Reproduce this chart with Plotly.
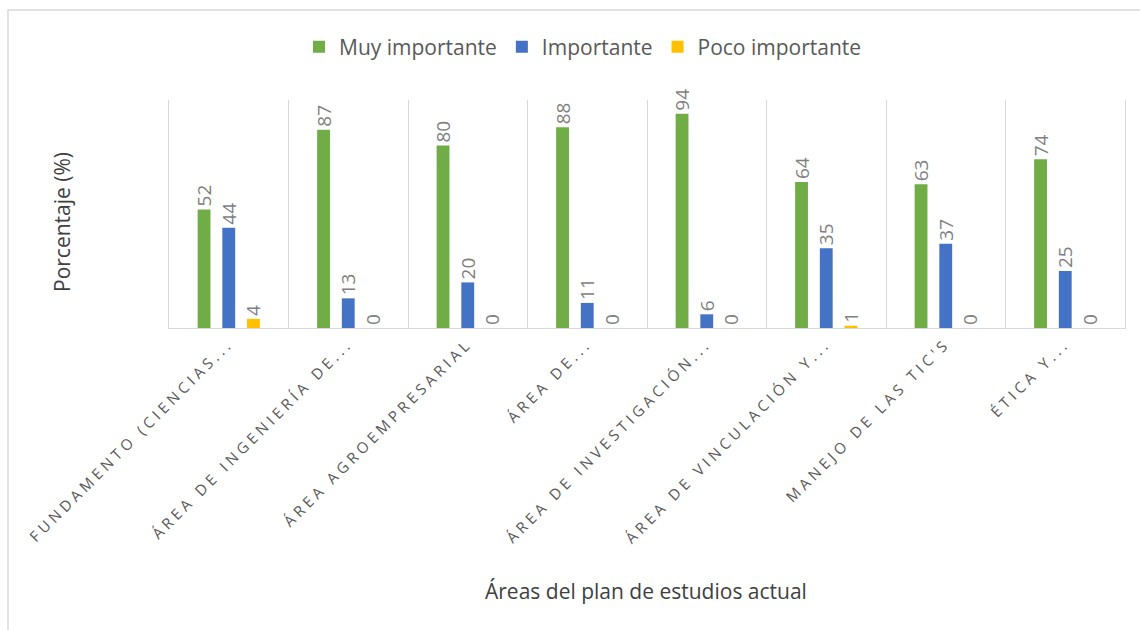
import plotly.graph_objects as go

categories = [
    "FUNDAMENTO (CIENCIAS...",
    "ÁREA DE INGENIERÍA DE...",
    "ÁREA AGROEMPRESARIAL",
    "ÁREA DE...",
    "ÁREA DE INVESTIGACIÓN...",
    "ÁREA DE VINCULACIÓN Y...",
    "MANEJO DE LAS TIC'S",
    "ÉTICA Y...",
]
muy_importante = [52, 87, 80, 88, 94, 64, 63, 74]
importante = [44, 13, 20, 11, 6, 35, 37, 25]
poco_importante = [4, 0, 0, 0, 0, 1, 0, 0]

series = [
    ("Muy importante", muy_importante, "#70AD47"),
    ("Importante", importante, "#4472C4"),
    ("Poco importante", poco_importante, "#FFC000"),
]

FONT = "Open Sans"
W, H = 1140, 630
ML, MR, MT, MB = 169, 15, 100, 302
PW = W - ML - MR
PH = H - MT - MB

fig = go.Figure()
for name, vals, color in series:
    fig.add_trace(go.Bar(
        name=name, x=categories, y=vals,
        marker=dict(color=color, line=dict(width=0)),
        text=[str(v) for v in vals], textposition="outside",
        textangle=-90, constraintext="none", cliponaxis=False,
        textfont=dict(family=FONT, size=19, color="#7F7F7F"),
    ))

def px_x(px):
    return (px - ML) / PW

def px_y(py):
    return (H - MB - py) / PH

fig.update_layout(
    width=W, height=H,
    margin=dict(l=ML, r=MR, t=MT, b=MB, autoexpand=False),
    paper_bgcolor="white", plot_bgcolor="white",
    barmode="group", bargap=0.38, bargroupgap=0.48,
    font=dict(family=FONT, color="#595959"),
    showlegend=True,
    legend=dict(orientation="h", x=px_x(583), xanchor="center",
                y=px_y(47), yanchor="middle",
                font=dict(family=FONT, size=21, color="#595959"),
                itemwidth=30, traceorder="normal"),
    xaxis=dict(
        type="category", tickson="boundaries", showgrid=True,
        gridcolor="#D9D9D9", gridwidth=1, showline=True,
        linecolor="#D9D9D9", linewidth=1, ticks="", ticklen=0,
        tickangle=-45, automargin=False,
        tickfont=dict(family=FONT, size=15, color="#595959"),
    ),
    yaxis=dict(range=[0, 100], showticklabels=False, showgrid=False,
               zeroline=False, showline=True, linecolor="#D9D9D9",
               mirror=True, ticks="", automargin=False),
    annotations=[
        dict(text="Porcentaje (%)", xref="paper", yref="paper",
             x=px_x(62), y=px_y(222), textangle=-90, showarrow=False,
             xanchor="center", yanchor="middle",
             font=dict(family=FONT, size=21, color="#404040")),
        dict(text="Áreas del plan de estudios actual", xref="paper",
             yref="paper", x=px_x(646), y=px_y(591), showarrow=False,
             xanchor="center", yanchor="middle",
             font=dict(family=FONT, size=21, color="#404040")),
    ],
    shapes=[
        dict(type="rect", xref="paper", yref="paper",
             x0=px_x(8), x1=px_x(1150), y0=px_y(640), y1=px_y(10),
             line=dict(color="#D9D9D9", width=1.5), layer="below"),
    ],
)

post = """
document.body.style.margin = '0';
document.querySelectorAll('.xtick text').forEach(function(t){
  t.style.letterSpacing = '4px';
});
"""
fig.write_html("out.html", post_script=post,
               config={"displayModeBar": False})
